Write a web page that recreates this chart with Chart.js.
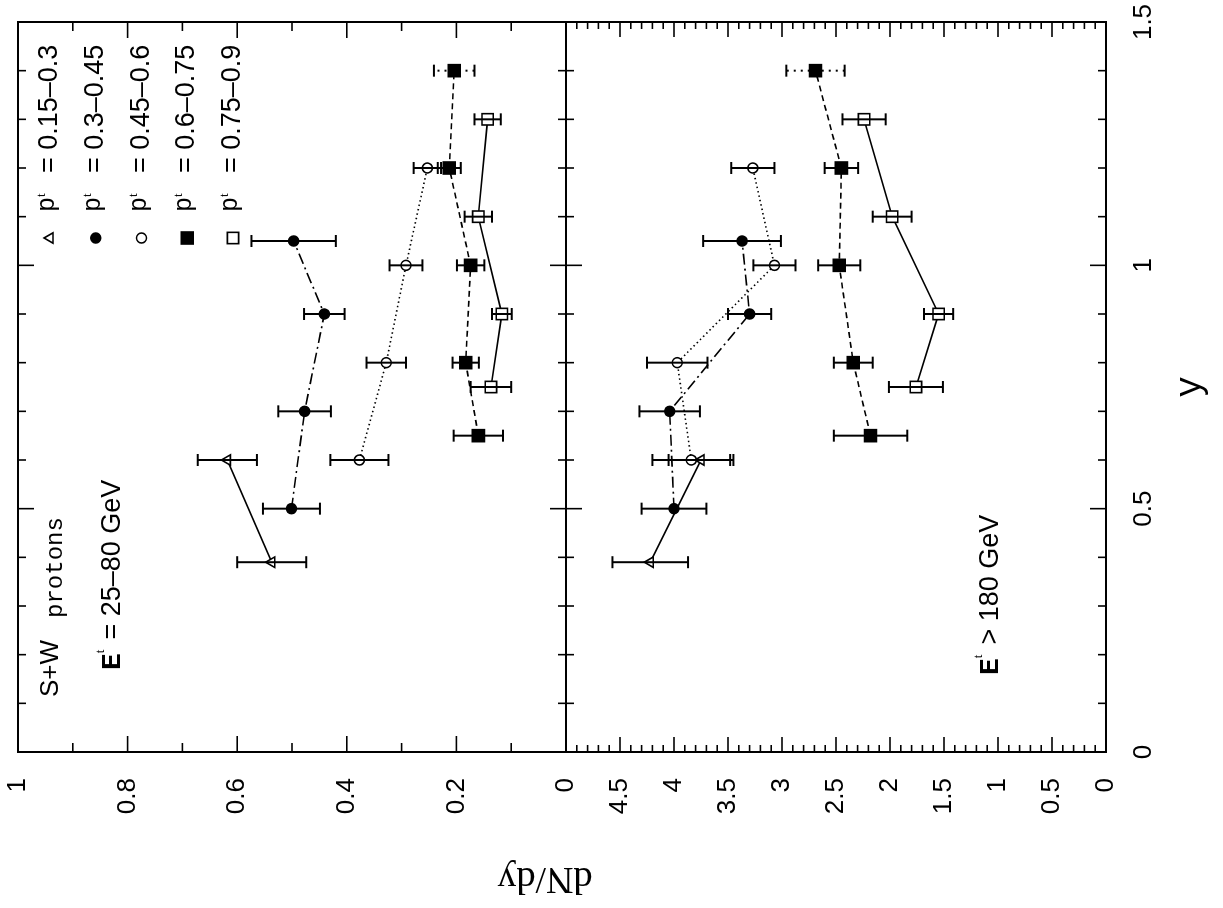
<!DOCTYPE html>
<html>
<head>
<meta charset="utf-8">
<title>S+W protons dN/dy</title>
<script src="https://cdn.jsdelivr.net/npm/chart.js@4.4.1/dist/chart.umd.min.js"></script>
<style>
  html, body { margin: 0; padding: 0; background: #fff; overflow: hidden; }
  #page { position: relative; width: 1223px; height: 908px; overflow: hidden; background: #fff; }
  /* the figure is drawn upright and then turned a quarter turn, like the scan */
  #wrap { position: absolute; left: 0; top: 0; width: 908px; height: 1223px;
          transform-origin: 0 0; transform: translate(0px, 908px) rotate(-90deg); }
</style>
</head>
<body>
<div id="page"><div id="wrap"><canvas id="c"></canvas></div></div>
<script>
'use strict';

// rapidity of the points, per pt bin
var yTri   = [0.39, 0.6];
var yDot   = [0.5, 0.7, 0.9, 1.05];
var yRing  = [0.6, 0.8, 1.0, 1.2];
var yBlock = [0.65, 0.8, 1.0, 1.2, 1.4];
var yBox   = [0.75, 0.9, 1.1, 1.3];

// Et = 25-80 GeV (upper panel)
var periTri   = [0.537, 0.618],               periTriErr   = [0.063, 0.054];
var periDot   = [0.501, 0.477, 0.441, 0.497], periDotErr   = [0.052, 0.048, 0.037, 0.077];
var periRing  = [0.377, 0.328, 0.292, 0.253], periRingErr  = [0.053, 0.036, 0.030, 0.025];
var periBlock = [0.160, 0.183, 0.174, 0.213, 0.204], periBlockErr = [0.045, 0.024, 0.025, 0.021, 0.037];
var periBox   = [0.137, 0.117, 0.160, 0.143], periBoxErr   = [0.037, 0.018, 0.025, 0.024];

// Et > 180 GeV (lower panel)
var centTri   = [4.22, 3.75],             centTriErr   = [0.35, 0.30];
var centDot   = [4.00, 4.04, 3.30, 3.37], centDotErr   = [0.30, 0.28, 0.20, 0.36];
var centRing  = [3.84, 3.97, 3.07, 3.27], centRingErr  = [0.36, 0.28, 0.195, 0.20];
var centBlock = [2.18, 2.34, 2.47, 2.45, 2.69], centBlockErr = [0.34, 0.18, 0.195, 0.155, 0.27];
var centBox   = [1.76, 1.55, 1.98, 2.24], centBoxErr   = [0.25, 0.135, 0.18, 0.20];

var ptBins = ['0.15\u20130.3', '0.3\u20130.45', '0.45\u20130.6', '0.6\u20130.75', '0.75\u20130.9'];
var yTicksTop = [0, 0.2, 0.4, 0.6, 0.8, 1];
var yTicksBot = [0, 0.5, 1, 1.5, 2, 2.5, 3, 3.5, 4, 4.5];
var xTicks = [0, 0.5, 1, 1.5];

var SANS = 'Liberation Sans', SERIF = 'Liberation Serif', MONO = 'Liberation Mono';

var looks = [
  { pointStyle: 'triangle', pointRadius: 6,   fill: '#fff', dash: [] },
  { pointStyle: 'circle',   pointRadius: 5,   fill: '#000', dash: [11, 4, 2, 4] },
  { pointStyle: 'circle',   pointRadius: 5,   fill: '#fff', dash: [1.5, 3] },
  { pointStyle: 'rect',     pointRadius: 8.5, fill: '#000', dash: [6, 4] },
  { pointStyle: 'rect',     pointRadius: 8,   fill: '#fff', dash: [] }
];

function series(ys, vals, errs, k, axis) {
  var l = looks[k];
  return {
    label: ptBins[k],
    data: ys.map(function (y, i) { return { x: y, y: vals[i] }; }),
    err: errs,
    faint: k === 3 ? ys.length - 1 : -1,
    yAxisID: axis,
    showLine: true,
    borderColor: '#000',
    borderWidth: 1.6,
    borderDash: l.dash,
    pointStyle: l.pointStyle,
    pointRadius: l.pointRadius,
    pointBackgroundColor: l.fill,
    pointBorderColor: '#000',
    pointBorderWidth: 1.6
  };
}

var datasets = [
  series(yTri, periTri, periTriErr, 0, 'yTop'),
  series(yDot, periDot, periDotErr, 1, 'yTop'),
  series(yRing, periRing, periRingErr, 2, 'yTop'),
  series(yBlock, periBlock, periBlockErr, 3, 'yTop'),
  series(yBox, periBox, periBoxErr, 4, 'yTop'),
  series(yTri, centTri, centTriErr, 0, 'yBot'),
  series(yDot, centDot, centDotErr, 1, 'yBot'),
  series(yRing, centRing, centRingErr, 2, 'yBot'),
  series(yBlock, centBlock, centBlockErr, 3, 'yBot'),
  series(yBox, centBox, centBoxErr, 4, 'yBot')
];

function num(v) { return String(Math.round(v * 100) / 100); }

function seg(c, x1, y1, x2, y2) {
  c.beginPath(); c.moveTo(x1, y1); c.lineTo(x2, y2); c.stroke();
}

// frame, panel divider and inward tick marks
var framePlugin = {
  id: 'frame',
  beforeDatasetsDraw: function (chart) {
    var c = chart.ctx, a = chart.chartArea;
    var sx = chart.scales.x, st = chart.scales.yTop, sb = chart.scales.yBot;
    var mid = st.getPixelForValue(0);
    var i, p, L;
    c.save();
    c.strokeStyle = '#000';
    c.lineWidth = 2;
    c.strokeRect(a.left, a.top, a.right - a.left, a.bottom - a.top);
    seg(c, a.left, mid, a.right, mid);
    c.lineWidth = 1.6;
    for (i = 0; i <= 15; i++) {
      p = sx.getPixelForValue(i / 10);
      L = i % 5 === 0 ? 16 : 8;
      seg(c, p, a.bottom, p, a.bottom - L);
      seg(c, p, a.top, p, a.top + L);
      seg(c, p, mid - L, p, mid + L);
    }
    for (i = 0; i <= 10; i++) {
      p = st.getPixelForValue(i / 10);
      L = i % 2 === 0 ? 16 : 9;
      seg(c, a.left, p, a.left + L, p);
      seg(c, a.right, p, a.right - L, p);
    }
    for (i = 0; i <= 50; i++) {
      p = sb.getPixelForValue(i / 10);
      L = i % 5 === 0 ? 15 : 7;
      seg(c, a.left, p, a.left + L, p);
      seg(c, a.right, p, a.right - L, p);
    }
    c.restore();
  }
};

// error bars with caps
var errorPlugin = {
  id: 'errbars',
  afterDatasetsDraw: function (chart) {
    var c = chart.ctx;
    c.save();
    c.strokeStyle = '#000';
    c.lineWidth = 2;
    chart.data.datasets.forEach(function (ds, di) {
      var meta = chart.getDatasetMeta(di), sy = chart.scales[ds.yAxisID];
      ds.data.forEach(function (pt, i) {
        var px = meta.data[i].x;
        var lo = sy.getPixelForValue(pt.y - ds.err[i]);
        var hi = sy.getPixelForValue(pt.y + ds.err[i]);
        c.setLineDash(ds.faint === i ? [2, 5] : []);
        seg(c, px, lo, px, hi);
        c.setLineDash([]);
        seg(c, px - 6, lo, px + 6, lo);
        seg(c, px - 6, hi, px + 6, hi);
      });
    });
    c.restore();
  }
};

function marker(c, look, x, y) {
  c.save();
  c.fillStyle = look.fill;
  c.strokeStyle = '#000';
  c.lineWidth = 1.6;
  if (Chart.helpers && Chart.helpers.drawPoint) {
    Chart.helpers.drawPoint(c, { pointStyle: look.pointStyle, radius: look.pointRadius, rotation: 0, borderWidth: 1.6 }, x, y);
  } else {
    c.beginPath(); c.arc(x, y, look.pointRadius, 0, Math.PI * 2); c.fill(); c.stroke();
  }
  c.restore();
}

// a run of text pieces with their own fonts and shifts
function runs(c, x, y, parts) {
  parts.forEach(function (p) {
    c.font = p.f;
    c.fillText(p.t, x + (p.dx || 0), y + (p.dy || 0));
    x += c.measureText(p.t).width + (p.dx || 0) + (p.gap || 0);
  });
}

var textPlugin = {
  id: 'texts',
  afterDraw: function (chart) {
    var c = chart.ctx, a = chart.chartArea;
    var mid = chart.scales.yTop.getPixelForValue(0);
    c.save();
    c.fillStyle = '#000';
    c.textBaseline = 'alphabetic';
    c.textAlign = 'left';

    // legend
    ptBins.forEach(function (lab, k) {
      var base = a.top + 39 + k * 45.75;
      marker(c, looks[k], a.left + 514, base - 7);
      runs(c, a.left + 540, base - 3, [
        { t: 'p', f: '25px ' + MONO },
        { t: 't', f: '13px ' + SERIF, dy: -9 }
      ]);
      c.font = '27px ' + SANS;
      c.fillText('= ' + lab, a.left + 579, base);
    });

    // panel captions
    runs(c, a.left + 55, a.top + 40, [
      { t: 'S+W', f: '26px ' + SANS, gap: 22 },
      { t: 'protons', f: '24px ' + MONO, dy: 4 }
    ]);
    runs(c, a.left + 82, a.top + 102, [
      { t: 'E', f: 'bold 28px ' + MONO },
      { t: 't', f: '13px ' + SERIF, dy: -16, gap: 10 },
      { t: '= 25\u201380 GeV', f: '27px ' + SANS }
    ]);
    runs(c, a.left + 77, mid + 432, [
      { t: 'E', f: 'bold 28px ' + MONO },
      { t: 't', f: '13px ' + SERIF, dy: -16, gap: 10 },
      { t: '> 180 GeV', f: '27px ' + SANS }
    ]);

    // dN/dy axis title
    c.translate(30, (a.top + a.bottom) / 2 - 17);
    c.rotate(-Math.PI / 2);
    c.textAlign = 'center';
    c.textBaseline = 'middle';
    c.font = '38px ' + SERIF;
    c.fillText('dN/dy', 0, 0);
    c.restore();
  }
};

function yAxis(max, step, weight, ticks) {
  return {
    type: 'linear',
    position: 'left',
    stack: 'dndy',
    stackWeight: weight,
    min: 0,
    max: max,
    grid: { display: false, drawTicks: false },
    border: { display: false },
    afterBuildTicks: function (s) { s.ticks = ticks.map(function (v) { return { value: v }; }); },
    // fixed width; end labels may hang over the frame instead of shrinking it
    afterFit: function (s) { s.width = 156; s.paddingTop = 0; s.paddingBottom = 0; },
    ticks: {
      stepSize: step,
      autoSkip: false,
      padding: 26,
      color: '#000',
      font: { family: SANS, size: 26 },
      callback: function (v) { return num(v); }
    }
  };
}

new Chart(document.getElementById('c'), {
  type: 'scatter',
  data: { datasets: datasets },
  options: {
    responsive: true,
    maintainAspectRatio: false,
    animation: false,
    layout: { padding: { top: 18, right: 22, left: 0, bottom: 0 } },
    plugins: { legend: { display: false }, tooltip: { enabled: false } },
    scales: {
      x: {
        type: 'linear',
        position: 'bottom',
        min: 0,
        max: 1.5,
        grid: { display: false, drawTicks: false },
        border: { display: false },
        afterBuildTicks: function (s) { s.ticks = xTicks.map(function (v) { return { value: v }; }); },
        afterFit: function (s) { s.height = 117; s.paddingLeft = 0; s.paddingRight = 0; },
        ticks: {
          stepSize: 0.5,
          maxRotation: 0,
          autoSkip: false,
          padding: 22,
          color: '#000',
          font: { family: SANS, size: 26 },
          callback: function (v) { return num(v); }
        },
        title: {
          display: true,
          text: 'y',
          color: '#000',
          font: { family: MONO, size: 36 },
          padding: { top: 0, bottom: 11 }
        }
      },
      // left-hand boxes of one stack are laid out last-first, so the lower panel is listed first
      yBot: yAxis(5, 0.5, 540, yTicksBot),
      yTop: yAxis(1, 0.2, 548, yTicksTop)
    }
  },
  plugins: [framePlugin, errorPlugin, textPlugin]
});
</script>
</body>
</html>
